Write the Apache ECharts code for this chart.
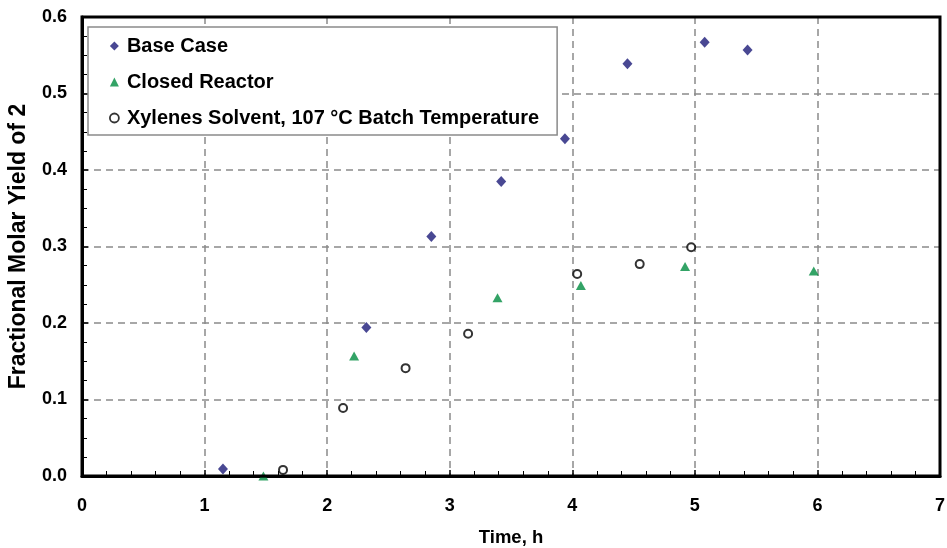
<!DOCTYPE html>
<html><head><meta charset="utf-8">
<script src="https://cdn.jsdelivr.net/npm/echarts@6/dist/echarts.min.js"></script>
<style>html,body{margin:0;padding:0;background:#fff}#c{width:947px;height:548px}</style>
</head><body><div id="c"></div>
<script>
const baseX = [1.15, 2.32, 2.85, 3.42, 3.94, 4.45, 5.08, 5.43];
const baseY = [0.009, 0.194, 0.313, 0.385, 0.441, 0.539, 0.567, 0.557];
const closedX = [1.48, 2.22, 3.39, 4.07, 4.92, 5.97];
const closedY = [0.0, 0.157, 0.233, 0.249, 0.274, 0.268];
const xylX = [1.64, 2.13, 2.64, 3.15, 4.04, 4.55, 4.97];
const xylY = [0.008, 0.089, 0.141, 0.186, 0.264, 0.277, 0.299];
const seriesNames = ['Base Case', 'Closed Reactor', 'Xylenes Solvent, 107 °C Batch Temperature'];
const xTitle = 'Time, h';
const yTitle = 'Fractional Molar Yield of 2';

const zip = (a, b) => a.map((v, i) => [v, b[i]]);
const font = 'Liberation Sans, Arial, sans-serif';
const navy = '#1c1a78', green = '#008c40';
const chart = echarts.init(document.getElementById('c'), null, {renderer: 'canvas'});
const gridLine = {show: true, showMinLine: false, showMaxLine: false, lineStyle: {color: '#8a8a8a', type: [7, 5], width: 1.5}};
chart.setOption({
  animation: false,
  backgroundColor: '#fff',
  grid: {left: 82, right: 7, top: 17, bottom: 72, outerBoundsMode: 'none', containLabel: false, show: true, borderColor: '#000', borderWidth: 3, backgroundColor: 'transparent', z: 5},
  legend: {
    orient: 'vertical', left: 88, top: 27,
    padding: [9, 18, 7, 21],
    itemGap: 16, itemWidth: 9, itemHeight: 9,
    backgroundColor: '#fff', borderColor: '#8a8a8a', borderWidth: 1.5,
    textStyle: {fontFamily: font, fontWeight: 'bold', fontSize: 20, color: '#000', padding: [0, 0, 0, 3]},
    data: [
      {name: seriesNames[0], icon: 'diamond', itemStyle: {color: navy}},
      {name: seriesNames[1], icon: 'triangle', itemStyle: {color: green}},
      {name: seriesNames[2], icon: 'circle', itemStyle: {color: '#fff', borderColor: '#000', borderWidth: 1.8}}
    ]
  },
  xAxis: {
    type: 'value', min: 0, max: 7, interval: 1,
    name: xTitle, nameLocation: 'middle', nameGap: 52,
    nameTextStyle: {fontFamily: font, fontWeight: 'bold', fontSize: 18.5, color: '#000'},
    axisLine: {show: true, onZero: false, lineStyle: {color: '#000', width: 3}},
    axisTick: {show: true, inside: true, length: 6, lineStyle: {color: '#000', width: 1.5}},
    minorTick: {show: true, splitNumber: 5, length: 5, lineStyle: {color: '#000', width: 1}},
    axisLabel: {fontFamily: font, fontWeight: 'bold', fontSize: 18, color: '#000', margin: 21},
    splitLine: gridLine
  },
  yAxis: {
    type: 'value', min: 0, max: 0.6, interval: 0.1,
    name: yTitle, nameLocation: 'middle', nameGap: 52, nameRotate: 90,
    nameTextStyle: {fontFamily: font, fontWeight: 'bold', fontSize: 23, color: '#000'},
    axisLine: {show: true, onZero: false, lineStyle: {color: '#000', width: 3}},
    axisTick: {show: true, inside: true, length: 6, lineStyle: {color: '#000', width: 1.5}},
    minorTick: {show: true, splitNumber: 4, length: 5, lineStyle: {color: '#000', width: 1}},
    axisLabel: {fontFamily: font, fontWeight: 'bold', fontSize: 18, color: '#000', margin: 15, formatter: v => v.toFixed(1)},
    splitLine: gridLine
  },
  series: [
    {name: seriesNames[0], type: 'scatter', symbol: 'diamond', symbolSize: [10, 11],
     itemStyle: {color: navy}, data: zip(baseX, baseY)},
    {name: seriesNames[1], type: 'scatter', symbol: 'triangle', symbolSize: [10, 9],
     itemStyle: {color: green}, data: zip(closedX, closedY)},
    {name: seriesNames[2], type: 'scatter', symbol: 'circle', symbolSize: 8,
     itemStyle: {color: '#fff', borderColor: '#000', borderWidth: 2}, data: zip(xylX, xylY)}
  ]
});
</script></body></html>
